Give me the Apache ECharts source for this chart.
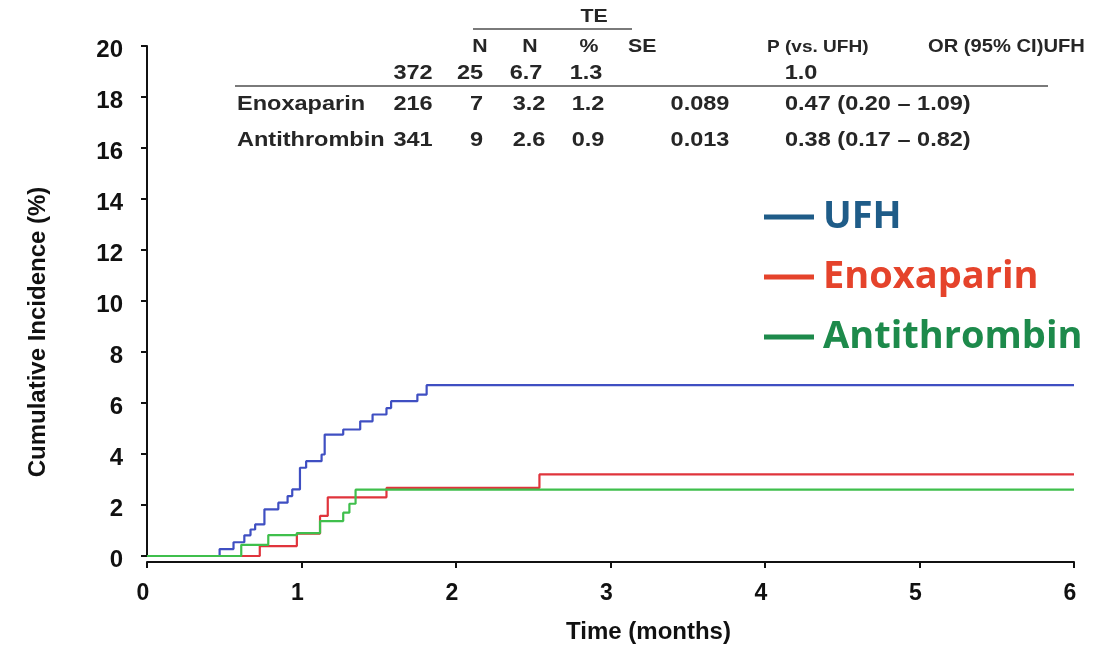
<!DOCTYPE html>
<html>
<head>
<meta charset="utf-8">
<script src="https://cdn.jsdelivr.net/npm/echarts@6/dist/echarts.min.js"></script>
<style>
  html, body { margin: 0; padding: 0; background: #ffffff; }
  #chart { width: 1118px; height: 649px; }
</style>
</head>
<body>
<div id="chart"></div>
<script>
// Treatment groups
const groups = ['UFH', 'Enoxaparin', 'Antithrombin'];

// Cumulative incidence step curves: time (months) and incidence (%)
const ufhTime = [0, 0.47, 0.56, 0.63, 0.67, 0.70, 0.76, 0.85, 0.91, 0.94, 0.99, 1.03, 1.13, 1.15, 1.27, 1.38, 1.46, 1.55, 1.58, 1.75, 1.81, 6];
const ufhPct  = [0, 0.27, 0.54, 0.81, 1.04, 1.24, 1.83, 2.09, 2.35, 2.61, 3.46, 3.72, 3.98, 4.76, 4.96, 5.28, 5.55, 5.80, 6.07, 6.33, 6.7, 6.7];

const enoxTime = [0, 0.73, 0.97, 1.12, 1.17, 1.55, 2.54, 6];
const enoxPct  = [0, 0.39, 0.88, 1.57, 2.30, 2.67, 3.2, 3.2];

const atTime = [0, 0.61, 0.785, 0.97, 1.12, 1.27, 1.31, 1.35, 6];
const atPct  = [0, 0.44, 0.82, 0.90, 1.37, 1.70, 2.05, 2.6, 2.6];

// Axis ticks
const xTicks = [0, 1, 2, 3, 4, 5, 6];
const yTicks = [0, 2, 4, 6, 8, 10, 12, 14, 16, 18, 20];

// Summary table text
const teHeader = 'TE';
const colHeaders = ['N', 'N', '%', 'SE', 'P (vs. UFH)', 'OR (95% CI)UFH'];
const ufhRow = ['372', '25', '6.7', '1.3', '1.0'];
const enoxRow = ['Enoxaparin', '216', '7', '3.2', '1.2', '0.089', '0.47 (0.20 \u2013 1.09)'];
const atRow = ['Antithrombin', '341', '9', '2.6', '0.9', '0.013', '0.38 (0.17 \u2013 0.82)'];

const lineColors = { UFH: '#3f4fc2', Enoxaparin: '#e0343c', Antithrombin: '#3fbf4c' };
const legendColors = { UFH: '#1f5c88', Enoxaparin: '#e5432b', Antithrombin: '#1d8a4b' };

const pairs = (t, v) => t.map((x, i) => [x, v[i]]);
const seriesData = {
  UFH: pairs(ufhTime, ufhPct),
  Enoxaparin: pairs(enoxTime, enoxPct),
  Antithrombin: pairs(atTime, atPct)
};

// Table drawing helpers
const TXT = '#262626';
const STRETCH = 1.12;
function cell(text, x, y, align, size) {
  return {
    type: 'text', x: x, y: y, scaleX: STRETCH, silent: true,
    style: {
      text: text, fill: TXT,
      font: 'bold ' + (size || 21) + 'px "Liberation Sans", Arial, sans-serif',
      textAlign: align || 'center', textVerticalAlign: 'middle'
    }
  };
}
function rule(x1, x2, y) {
  return {
    type: 'line', silent: true,
    shape: { x1: x1, y1: y, x2: x2, y2: y },
    style: { stroke: '#7a7a7a', lineWidth: 2 }
  };
}

const HS = 19;
const tableGraphics = [
  cell(teHeader, 594, 17, 'center', HS),
  rule(473, 632, 29),
  cell(colHeaders[0], 480, 47, 'center', HS),
  cell(colHeaders[1], 530, 47, 'center', HS),
  cell(colHeaders[2], 589, 47, 'center', HS),
  cell(colHeaders[3], 628, 47, 'left', HS),
  cell(colHeaders[4], 767, 47, 'left', 17),
  cell(colHeaders[5], 928, 47, 'left', 18),
  cell(ufhRow[0], 413, 73),
  cell(ufhRow[1], 470, 73),
  cell(ufhRow[2], 526, 73),
  cell(ufhRow[3], 586, 73),
  cell(ufhRow[4], 801, 73),
  rule(235, 1048, 86)
];
[[enoxRow, 104], [atRow, 140]].forEach(([row, y]) => {
  tableGraphics.push(
    cell(row[0], 237, y, 'left'),
    cell(row[1], 413, y),
    cell(row[2], 483, y, 'right'),
    cell(row[3], 529, y),
    cell(row[4], 588, y),
    cell(row[5], 700, y),
    cell(row[6], 785, y, 'left')
  );
});

const axisFont = '"Liberation Sans", Arial, sans-serif';

const chart = echarts.init(document.getElementById('chart'), null, { renderer: 'canvas' });
chart.setOption({
  backgroundColor: '#ffffff',
  animation: false,
  grid: { left: 147, right: 44, top: 46, bottom: 93, containLabel: false },
  legend: {
    orient: 'vertical',
    left: 759,
    top: 192,
    icon: 'rect',
    itemWidth: 50,
    itemHeight: 5,
    itemGap: 20,
    selectedMode: false,
    textStyle: {
      fontFamily: '"Open Sans", sans-serif',
      fontWeight: 'bold',
      fontSize: 38,
      lineHeight: 40,
      padding: [0, 0, 0, 4]
    },
    data: groups.map(g => ({
      name: g,
      itemStyle: { color: legendColors[g] },
      lineStyle: { color: legendColors[g] },
      textStyle: { color: legendColors[g] }
    }))
  },
  xAxis: {
    type: 'value',
    min: xTicks[0],
    max: xTicks[xTicks.length - 1],
    interval: 1,
    offset: 6,
    name: 'Time (months)',
    nameLocation: 'middle',
    nameGap: 58,
    nameTextStyle: {
      fontFamily: axisFont, fontWeight: 'bold', fontSize: 24, color: '#111',
      padding: [0, 0, 0, 76]
    },
    axisLine: { show: true, onZero: false, lineStyle: { color: '#111', width: 2 } },
    axisTick: { show: true, length: 6, lineStyle: { color: '#111', width: 2 } },
    axisLabel: {
      margin: 20, color: '#111', fontFamily: axisFont, fontWeight: 'bold', fontSize: 23,
      padding: [0, 8, 0, 0]
    },
    splitLine: { show: false }
  },
  yAxis: {
    type: 'value',
    min: yTicks[0],
    max: yTicks[yTicks.length - 1],
    interval: 2,
    name: 'Cumulative Incidence (%)',
    nameLocation: 'middle',
    nameGap: 97,
    nameTextStyle: {
      fontFamily: axisFont, fontWeight: 'bold', fontSize: 24, color: '#111',
      padding: [0, 62, 0, 0]
    },
    axisLine: { show: true, lineStyle: { color: '#111', width: 2 } },
    axisTick: { show: true, length: 6, lineStyle: { color: '#111', width: 2 } },
    axisLabel: {
      margin: 24,
      formatter: '{v|{value}}',
      rich: {
        v: {
          color: '#111', fontFamily: axisFont, fontWeight: 'bold', fontSize: 24,
          padding: [8, 0, 0, 0]
        }
      }
    },
    splitLine: { show: false }
  },
  series: groups.map(g => ({
    name: g,
    type: 'line',
    step: 'end',
    data: seriesData[g],
    showSymbol: false,
    symbol: 'none',
    color: lineColors[g],
    lineStyle: { color: lineColors[g], width: 2.2 },
    z: g === 'Antithrombin' ? 4 : 3
  })),
  graphic: tableGraphics
});
</script>
</body>
</html>
